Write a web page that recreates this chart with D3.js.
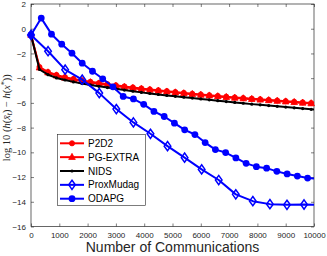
<!DOCTYPE html>
<html>
<head>
<meta charset="utf-8">
<script src="https://cdn.jsdelivr.net/npm/d3@7"></script>
<style>
  body { margin: 0; background: #fff; }
  svg text { font-family: "Liberation Sans", Arial, sans-serif; fill: #262626; }
</style>
</head>
<body>
<script>
// number of communications (x) for each method
var ringComm = [0,300,600,900,1200,1500,1800,2100,2400,2700,3000,3300,3600,3900,4200,4500,4800,
  5100,5400,5700,6000,6300,6600,6900,7200,7500,7800,8100,8400,8700,9000,9300,9600,9900,10000];
var mudagComm = [0,603,1206,1809,2412,3015,3618,4221,4824,5427,6030,6633,7236,7839,8442,9045,9648,10000];
var odapgComm = [0,362,724,1086,1448,1810,2172,2534,2896,3258,3620,3982,4344,4706,5068,5430,5792,
  6154,6516,6878,7240,7602,7964,8326,8688,9050,9412,9774,10000];

// log10 optimality gap
var p2d2 = [-0.5,-3.1,-3.5,-3.74,-3.92,-4.06,-4.18,-4.29,-4.39,-4.49,-4.58,-4.67,-4.75,-4.83,-4.91,
  -4.98,-5.05,-5.12,-5.19,-5.26,-5.32,-5.38,-5.44,-5.5,-5.56,-5.61,-5.66,-5.71,-5.76,-5.81,-5.86,-5.91,-5.96,-6.01,-6.03];
var pgExtra = [-0.5,-3.15,-3.55,-3.8,-3.98,-4.12,-4.24,-4.35,-4.45,-4.55,-4.64,-4.73,-4.81,-4.89,-4.96,
  -5.03,-5.1,-5.17,-5.24,-5.3,-5.36,-5.42,-5.48,-5.54,-5.6,-5.65,-5.7,-5.75,-5.8,-5.85,-5.9,-5.95,-6.0,-6.05,-6.07];
var nids = [-0.5,-3.3,-3.72,-3.98,-4.15,-4.3,-4.43,-4.55,-4.66,-4.76,-4.86,-4.96,-5.06,-5.15,-5.24,
  -5.32,-5.4,-5.47,-5.54,-5.61,-5.68,-5.75,-5.82,-5.89,-5.96,-6.03,-6.1,-6.16,-6.22,-6.28,-6.34,-6.4,-6.46,-6.52,-6.54];
var proxMudag = [-0.5,-1.82,-3.31,-4.12,-5.21,-6.5,-7.58,-8.5,-9.5,-10.43,-11.38,-12.24,-13.4,-13.95,
  -14.19,-14.25,-14.22,-14.25];
var odapg = [-0.5,0.86,-0.44,-1.25,-1.98,-2.79,-3.44,-4.05,-4.7,-5.48,-5.68,-6.12,-6.69,-7.1,-7.64,
  -8.18,-8.56,-9.21,-9.78,-10.02,-10.45,-10.89,-11.16,-11.28,-11.54,-11.75,-11.92,-12.08,-12.12];

var legendNames = ["P2D2", "PG-EXTRA", "NIDS", "ProxMudag", "ODAPG"];
var xTicks = d3.range(0, 10001, 1000);
var yTicks = d3.range(-16, 3, 2);

var series = [
  {name: "P2D2", x: ringComm, y: p2d2, color: "#ff0000", marker: "circle"},
  {name: "PG-EXTRA", x: ringComm, y: pgExtra, color: "#ff0000", marker: "triangle"},
  {name: "NIDS", x: ringComm, y: nids, color: "#000000", marker: "dot"},
  {name: "ProxMudag", x: mudagComm, y: proxMudag, color: "#0000ff", marker: "diamond"},
  {name: "ODAPG", x: odapgComm, y: odapg, color: "#0000ff", marker: "bigcircle"}
];

var width = 327, height = 256;
var margin = {top: 4, right: 13, bottom: 29.5, left: 31};

var svg = d3.select("body").append("svg")
  .attr("width", width)
  .attr("height", height);

var x = d3.scaleLinear().domain([0, 10000]).range([margin.left, width - margin.right]);
var y = d3.scaleLinear().domain([-16, 2]).range([height - margin.bottom, margin.top]);

/* draw one marker of a given kind into group g */
function drawMarker(g, kind, color) {
  if (kind == "circle") {
    g.append("circle").attr("r", 2.6).attr("fill", color).attr("stroke", color).attr("stroke-width", 0.8);
  } else if (kind == "triangle") {
    g.append("path").attr("d", "M0,-3.8L3.3,2.3L-3.3,2.3Z").attr("fill", color).attr("stroke", color).attr("stroke-width", 0.8);
  } else if (kind == "dot") {
    g.append("circle").attr("r", 1.6).attr("fill", color);
  } else if (kind == "diamond") {
    g.append("path").attr("d", "M0,-4.6L3.3,0L0,4.6L-3.3,0Z").attr("fill", "none").attr("stroke", color).attr("stroke-width", 1.5);
  } else {
    g.append("circle").attr("r", 3.4).attr("fill", color);
  }
}

// axes box ticks, MATLAB style with ticks pointing in
var axisColor = "#262626";
var gAxes = svg.append("g").attr("id", "axes");

gAxes.append("g")
  .attr("transform", "translate(0," + y(-16) + ")")
  .call(d3.axisBottom(x).tickValues(xTicks).tickSize(-3).tickPadding(6).tickFormat(d3.format("d")))
  .call(function(g) {
    g.select(".domain").remove();
    g.selectAll("line").attr("stroke", axisColor).attr("stroke-width", 0.6);
    g.selectAll("text").attr("font-size", 8).attr("font-family", "Liberation Sans, Arial, sans-serif").attr("fill", axisColor);
  });

gAxes.append("g")
  .attr("transform", "translate(0," + y(2) + ")")
  .call(d3.axisTop(x).tickValues(xTicks).tickSize(-3).tickFormat(""))
  .call(function(g) {
    g.select(".domain").remove();
    g.selectAll("line").attr("stroke", axisColor).attr("stroke-width", 0.6);
  });

gAxes.append("g")
  .attr("transform", "translate(" + x(0) + ",0)")
  .call(d3.axisLeft(y).tickValues(yTicks).tickSize(-3).tickPadding(5).tickFormat(d3.format("d")))
  .call(function(g) {
    g.select(".domain").remove();
    g.selectAll("line").attr("stroke", axisColor).attr("stroke-width", 0.6);
    g.selectAll("text").attr("font-size", 8).attr("font-family", "Liberation Sans, Arial, sans-serif").attr("fill", axisColor);
  });

gAxes.append("g")
  .attr("transform", "translate(" + x(10000) + ",0)")
  .call(d3.axisRight(y).tickValues(yTicks).tickSize(-3).tickFormat(""))
  .call(function(g) {
    g.select(".domain").remove();
    g.selectAll("line").attr("stroke", axisColor).attr("stroke-width", 0.6);
  });

gAxes.append("rect")
  .attr("x", x(0)).attr("y", y(2))
  .attr("width", x(10000) - x(0)).attr("height", y(-16) - y(2))
  .attr("fill", "none").attr("stroke", axisColor).attr("stroke-width", 0.7);

// the curves
var gLines = svg.append("g").attr("id", "lines");
series.forEach(function(s) {
  var pts = s.x.map(function(c, i) { return [c, s.y[i]]; });
  var line = d3.line().x(function(d) { return x(d[0]); }).y(function(d) { return y(d[1]); });
  gLines.append("path")
    .attr("d", line(pts))
    .attr("fill", "none")
    .attr("stroke", s.color)
    .attr("stroke-width", 2)
    .attr("stroke-linejoin", "round");
  // markers on every point except the axis end
  pts.filter(function(d) { return d[0] < 10000; }).forEach(function(d) {
    var g = gLines.append("g").attr("transform", "translate(" + x(d[0]) + "," + y(d[1]) + ")");
    drawMarker(g, s.marker, s.color);
  });
});

// legend
var leg = svg.append("g").attr("id", "legend");
leg.append("rect")
  .attr("x", 57.5).attr("y", 134.5).attr("width", 88).attr("height", 71)
  .attr("fill", "#fff").attr("stroke", axisColor).attr("stroke-width", 0.6);

series.forEach(function(s, i) {
  var ly = 143.3 + i * 13.85;
  leg.append("line")
    .attr("x1", 60).attr("x2", 84).attr("y1", ly).attr("y2", ly)
    .attr("stroke", s.color).attr("stroke-width", 2);
  var g = leg.append("g").attr("transform", "translate(72," + ly + ")");
  drawMarker(g, s.marker, s.color);
  leg.append("text")
    .attr("x", 88).attr("y", ly)
    .attr("dy", "0.35em")
    .attr("font-size", 10)
    .style("fill", "#000")
    .text(legendNames[i]);
});

// axis labels
svg.append("text")
  .attr("x", (x(0) + x(10000)) / 2)
  .attr("y", 252)
  .attr("text-anchor", "middle")
  .attr("font-size", 14)
  .attr("fill", "#262626")
  .text("Number of Communications");

var yl = svg.append("text")
  .attr("transform", "translate(10," + (y(-7.2)) + ") rotate(-90)")
  .attr("text-anchor", "middle")
  .attr("font-size", 10.5)
  .style("font-family", "Liberation Serif, DejaVu Serif, serif")
  .attr("fill", "#262626");
yl.append("tspan").text("log 10 (");
yl.append("tspan").attr("font-style", "italic").text("h");
yl.append("tspan").text("(");
yl.append("tspan").attr("font-style", "italic").text("x\u0304");
yl.append("tspan").attr("font-style", "italic").attr("font-size", 7.5).attr("dy", 2).text("t");
yl.append("tspan").attr("dy", -2).text(") \u2212 ");
yl.append("tspan").attr("font-style", "italic").text("h");
yl.append("tspan").text("(");
yl.append("tspan").attr("font-style", "italic").text("x");
yl.append("tspan").attr("font-size", 7.5).attr("dy", -3).text("*");
yl.append("tspan").attr("dy", 3).text("))");
</script>
</body>
</html>
